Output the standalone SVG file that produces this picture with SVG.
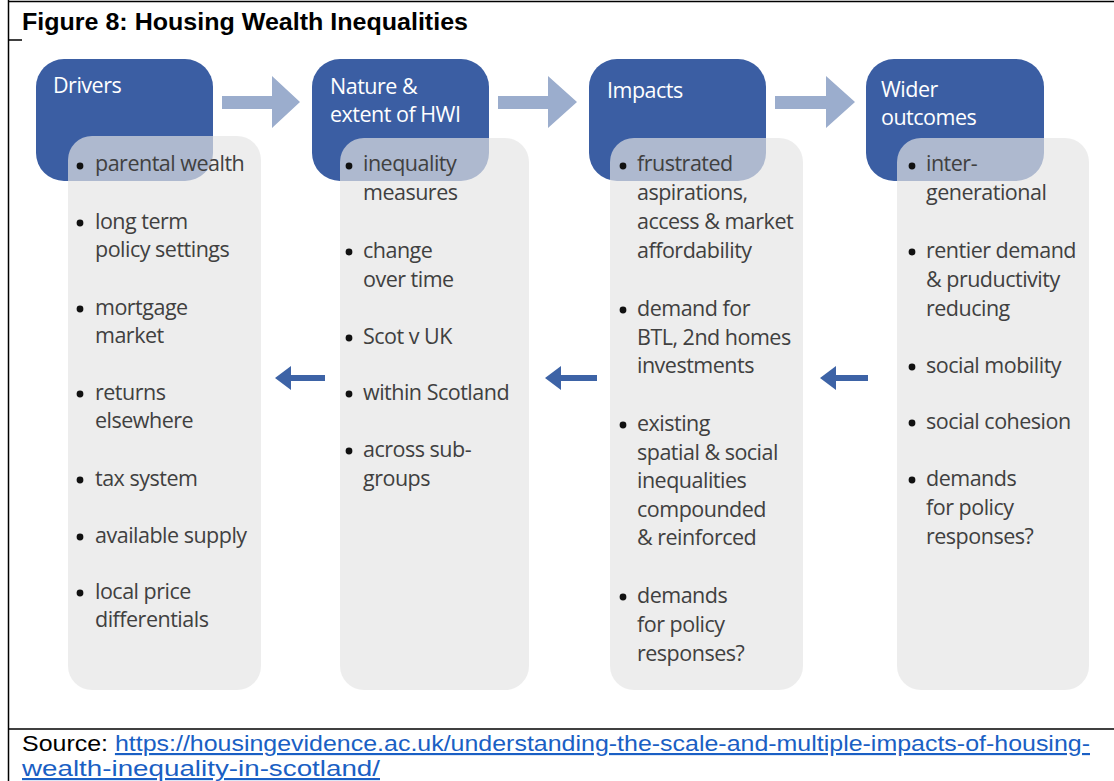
<svg xmlns="http://www.w3.org/2000/svg" width="1114" height="781" viewBox="0 0 1114 781">
<style>
.frame{stroke:#000;stroke-width:1.5;fill:none}
.title{font-family:"Liberation Sans",Arial,sans-serif;font-weight:bold;font-size:24px;fill:#000}
.src{font-family:"Liberation Sans",Arial,sans-serif;font-size:21.5px;fill:#000}
.link{fill:#1a5fc4;text-decoration:underline}
.head{fill:#3b5ea3}
.panel{fill:#e4e4e4;fill-opacity:0.68}
.ht{font-family:"Open Sans","Noto Sans",sans-serif;font-size:21.5px;fill:#fff;letter-spacing:-0.5px}
.it{font-family:"Open Sans","Noto Sans",sans-serif;font-size:21.5px;fill:#404040;letter-spacing:-0.5px}
.dot{fill:#111}
.fwd{fill:#9badcd}
.back{fill:#3d63a6}
</style>
<rect width="1114" height="781" fill="#fff"/>
<g id="frame">
<line class="frame" x1="8" y1="1.5" x2="1114" y2="1.5"/>
<line class="frame" x1="8.5" y1="0" x2="8.5" y2="781"/>
<line class="frame" x1="8" y1="40" x2="22" y2="40"/>
<line class="frame" x1="8" y1="729" x2="1114" y2="729"/>
</g>
<text class="title" x="22" y="30" textLength="446" lengthAdjust="spacingAndGlyphs">Figure 8: Housing Wealth Inequalities</text>

<g id="connectors">
<path class="fwd" d="M222,96 H272 V76 L300,102 L272,128 V109 H222 Z"/>
<path class="fwd" d="M498,96 H548 V76 L577,102 L548,128 V109 H498 Z"/>
<path class="fwd" d="M775,96 H826 V76 L855,102 L826,128 V109 H775 Z"/>
<path class="back" d="M325,375 H291 V366 L275,378 L291,390 V381 H325 Z"/>
<path class="back" d="M597,375 H561 V366 L545,378 L561,390 V381 H597 Z"/>
<path class="back" d="M868,375 H836 V366 L820,378 L836,390 V381 H868 Z"/>
</g>

<g id="drivers">
<rect class="head" x="36" y="59" width="177" height="122" rx="28"/>
<rect class="panel" x="68" y="136" width="193" height="554" rx="24"/>
<text class="ht" x="53" y="93">Drivers</text>
<g class="dot"><circle cx="80" cy="166" r="3.4"/><circle cx="80" cy="223" r="3.4"/><circle cx="80" cy="309" r="3.4"/><circle cx="80" cy="394" r="3.4"/><circle cx="80" cy="480" r="3.4"/><circle cx="80" cy="537" r="3.4"/><circle cx="80" cy="593" r="3.4"/></g>
<text class="it" x="95" y="171">parental wealth</text>
<text class="it" x="95" y="229">long term</text>
<text class="it" x="95" y="257">policy settings</text>
<text class="it" x="95" y="315">mortgage</text>
<text class="it" x="95" y="343">market</text>
<text class="it" x="95" y="400">returns</text>
<text class="it" x="95" y="428">elsewhere</text>
<text class="it" x="95" y="486">tax system</text>
<text class="it" x="95" y="543">available supply</text>
<text class="it" x="95" y="599">local price</text>
<text class="it" x="95" y="627">differentials</text>
</g>

<g id="nature">
<rect class="head" x="312" y="59" width="177" height="122" rx="28"/>
<rect class="panel" x="340" y="138" width="189" height="552" rx="24"/>
<text class="ht" x="330" y="94">Nature &amp;</text>
<text class="ht" x="330" y="122">extent of HWI</text>
<g class="dot"><circle cx="349" cy="166" r="3.4"/><circle cx="349" cy="252" r="3.4"/><circle cx="349" cy="338" r="3.4"/><circle cx="349" cy="394" r="3.4"/><circle cx="349" cy="451" r="3.4"/></g>
<text class="it" x="363" y="171">inequality</text>
<text class="it" x="363" y="200">measures</text>
<text class="it" x="363" y="258">change</text>
<text class="it" x="363" y="287">over time</text>
<text class="it" x="363" y="344">Scot v UK</text>
<text class="it" x="363" y="400">within Scotland</text>
<text class="it" x="363" y="457">across sub-</text>
<text class="it" x="363" y="486">groups</text>
</g>

<g id="impacts">
<rect class="head" x="589" y="59" width="177" height="122" rx="28"/>
<rect class="panel" x="610" y="138" width="193" height="552" rx="24"/>
<text class="ht" x="607" y="98">Impacts</text>
<g class="dot"><circle cx="623" cy="166" r="3.4"/><circle cx="623" cy="310" r="3.4"/><circle cx="623" cy="425" r="3.4"/><circle cx="623" cy="597" r="3.4"/></g>
<text class="it" x="637" y="171">frustrated</text>
<text class="it" x="637" y="200">aspirations,</text>
<text class="it" x="637" y="229">access &amp; market</text>
<text class="it" x="637" y="258">affordability</text>
<text class="it" x="637" y="316">demand for</text>
<text class="it" x="637" y="345">BTL, 2nd homes</text>
<text class="it" x="637" y="373">investments</text>
<text class="it" x="637" y="431">existing</text>
<text class="it" x="637" y="460">spatial &amp; social</text>
<text class="it" x="637" y="488">inequalities</text>
<text class="it" x="637" y="517">compounded</text>
<text class="it" x="637" y="545">&amp; reinforced</text>
<text class="it" x="637" y="603">demands</text>
<text class="it" x="637" y="632">for policy</text>
<text class="it" x="637" y="661">responses?</text>
</g>

<g id="wider">
<rect class="head" x="866" y="59" width="178" height="122" rx="28"/>
<rect class="panel" x="897" y="138" width="192" height="552" rx="24"/>
<text class="ht" x="881" y="97">Wider</text>
<text class="ht" x="881" y="125">outcomes</text>
<g class="dot"><circle cx="912" cy="166" r="3.4"/><circle cx="912" cy="252" r="3.4"/><circle cx="912" cy="367" r="3.4"/><circle cx="912" cy="423" r="3.4"/><circle cx="912" cy="480" r="3.4"/></g>
<text class="it" x="926" y="171">inter-</text>
<text class="it" x="926" y="200">generational</text>
<text class="it" x="926" y="258">rentier demand</text>
<text class="it" x="926" y="287">&amp; pruductivity</text>
<text class="it" x="926" y="316">reducing</text>
<text class="it" x="926" y="373">social mobility</text>
<text class="it" x="926" y="429">social cohesion</text>
<text class="it" x="926" y="486">demands</text>
<text class="it" x="926" y="515">for policy</text>
<text class="it" x="926" y="544">responses?</text>
</g>

<g id="source">
<text class="src" x="22" y="751" textLength="1068" lengthAdjust="spacingAndGlyphs">Source: <tspan class="link">https://housingevidence.ac.uk/understanding-the-scale-and-multiple-impacts-of-housing-</tspan></text>
<text class="src link" x="22" y="776" textLength="358" lengthAdjust="spacingAndGlyphs">wealth-inequality-in-scotland/</text>
</g>
</svg>
